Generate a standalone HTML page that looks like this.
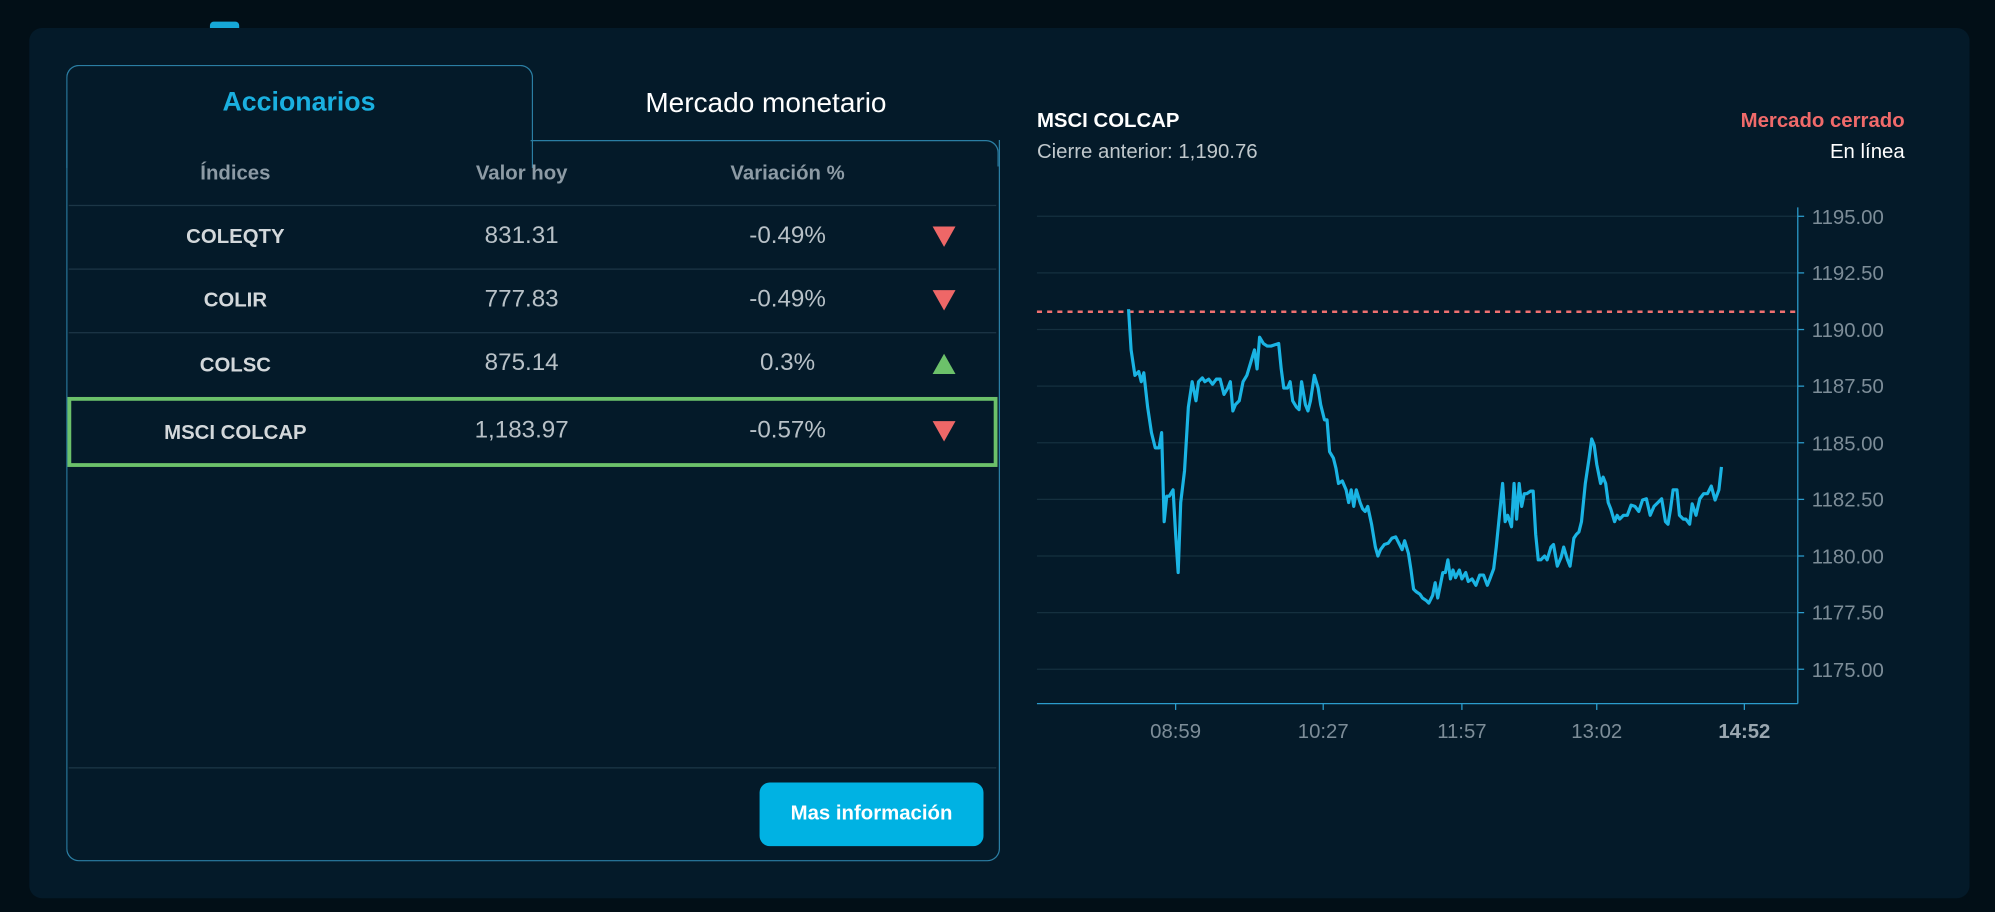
<!DOCTYPE html>
<html><head><meta charset="utf-8"><style>
html,body{margin:0;padding:0;background:#020f17;overflow:hidden;}
#wrap{width:1568px;height:717px;transform:scale(1.27232);transform-origin:0 0;position:relative;font-family:"Liberation Sans",sans-serif;}
.abs{position:absolute;}
.card{left:23px;top:22px;width:1525px;height:684px;background:#041a29;border-radius:10px;}
.t{position:absolute;white-space:nowrap;transform:translate(-50%,-50%);}
.hd{color:#8d9ba5;font-weight:bold;font-size:16px;}
.nm{color:#d3d8db;font-weight:bold;font-size:16px;}
.vl{color:#b8c1c7;font-size:19px;}
.hl{position:absolute;left:54px;width:729px;height:1px;background:#1c3646;}
.dn{position:absolute;width:0;height:0;border-left:9px solid transparent;border-right:9px solid transparent;border-top:16px solid #ee6767;transform:translate(-50%,-50%);}
.up{position:absolute;width:0;height:0;border-left:9px solid transparent;border-right:9px solid transparent;border-bottom:16px solid #6cc16a;transform:translate(-50%,-50%);}
</style></head><body><div id="wrap">
<div class="abs" style="left:165px;top:17px;width:23px;height:8px;background:#16a8d8;border-radius:3px 3px 0 0;"></div>
<div class="abs card"></div>
<!-- left panel borders -->
<div class="abs" style="left:52px;top:51px;width:365px;height:80px;border:1px solid #2b7ea3;border-bottom:none;border-radius:10px 10px 0 0;"></div>
<div class="abs" style="left:52px;top:110px;width:732px;height:566px;border:1px solid #2b7ea3;border-top:none;border-radius:0 0 10px 10px;"></div>
<div class="abs" style="left:417px;top:110px;width:367px;height:20px;border-top:1px solid #2b7ea3;border-right:1px solid #2b7ea3;border-radius:0 10px 0 0;"></div>
<div class="t" style="left:235px;top:81px;color:#1ab0e0;font-weight:bold;font-size:21px;">Accionarios</div>
<div class="t" style="left:602px;top:81px;color:#fff;font-size:22px;">Mercado monetario</div>
<div class="t hd" style="left:185px;top:137px;">Índices</div>
<div class="t hd" style="left:410px;top:137px;">Valor hoy</div>
<div class="t hd" style="left:619px;top:137px;">Variación %</div>
<div class="hl" style="top:161px"></div><div class="hl" style="top:211px"></div><div class="hl" style="top:261px"></div><div class="hl" style="top:603px"></div>
<div class="t nm" style="left:185px;top:187px;">COLEQTY</div><div class="t vl" style="left:410px;top:186px;">831.31</div><div class="t vl" style="left:619px;top:186px;">-0.49%</div><div class="dn" style="left:742px;top:186px;"></div>
<div class="t nm" style="left:185px;top:237px;">COLIR</div><div class="t vl" style="left:410px;top:236px;">777.83</div><div class="t vl" style="left:619px;top:236px;">-0.49%</div><div class="dn" style="left:742px;top:236px;"></div>
<div class="t nm" style="left:185px;top:288px;">COLSC</div><div class="t vl" style="left:410px;top:286px;">875.14</div><div class="t vl" style="left:619px;top:286px;">0.3%</div><div class="up" style="left:742px;top:286px;"></div>
<div class="abs" style="left:53px;top:312px;width:725px;height:49px;border:3px solid #6cc16a;"></div>
<div class="t nm" style="left:185px;top:341px;">MSCI COLCAP</div><div class="t vl" style="left:410px;top:339px;">1,183.97</div><div class="t vl" style="left:619px;top:339px;">-0.57%</div><div class="dn" style="left:742px;top:339px;"></div>
<div class="abs" style="left:597px;top:615px;width:176px;height:50px;background:#00b2e3;border-radius:8px;color:#fff;font-weight:bold;font-size:16px;line-height:50px;text-align:center;">Mas información</div>
<!-- chart header -->
<div class="abs" style="left:815px;top:87px;color:#fff;font-weight:bold;font-size:16px;">MSCI COLCAP</div>
<div class="abs" style="left:815px;top:111px;color:#c0c8cc;font-size:16px;">Cierre anterior: 1,190.76</div>
<div class="abs" style="right:71px;top:87px;color:#f06a6a;font-weight:bold;font-size:16px;">Mercado cerrado</div>
<div class="abs" style="right:71px;top:111px;color:#fff;font-size:16px;">En línea</div>
<svg class="abs" style="left:0;top:0" width="1568" height="717">
<g stroke="#15303f" stroke-width="1">
<line x1="815" x2="1413" y1="170" y2="170"/><line x1="815" x2="1413" y1="214.5" y2="214.5"/><line x1="815" x2="1413" y1="259" y2="259"/><line x1="815" x2="1413" y1="303.5" y2="303.5"/><line x1="815" x2="1413" y1="348" y2="348"/><line x1="815" x2="1413" y1="392.5" y2="392.5"/><line x1="815" x2="1413" y1="437" y2="437"/><line x1="815" x2="1413" y1="481.5" y2="481.5"/><line x1="815" x2="1413" y1="526" y2="526"/>
</g>
<g stroke="#2b9ccc" stroke-width="1">
<line x1="1413" x2="1413" y1="163" y2="553"/><line x1="815" x2="1413" y1="553" y2="553"/>
<line x1="1413" x2="1418" y1="170" y2="170"/><line x1="1413" x2="1418" y1="214.5" y2="214.5"/><line x1="1413" x2="1418" y1="259" y2="259"/><line x1="1413" x2="1418" y1="303.5" y2="303.5"/><line x1="1413" x2="1418" y1="348" y2="348"/><line x1="1413" x2="1418" y1="392.5" y2="392.5"/><line x1="1413" x2="1418" y1="437" y2="437"/><line x1="1413" x2="1418" y1="481.5" y2="481.5"/><line x1="1413" x2="1418" y1="526" y2="526"/>
<line x1="924" x2="924" y1="553" y2="558"/><line x1="1040" x2="1040" y1="553" y2="558"/><line x1="1149" x2="1149" y1="553" y2="558"/><line x1="1255" x2="1255" y1="553" y2="558"/><line x1="1371" x2="1371" y1="553" y2="558"/>
</g>
<g fill="#7d8d98" font-family="Liberation Sans,sans-serif" font-size="16">
<text x="1424" y="176">1195.00</text><text x="1424" y="220">1192.50</text><text x="1424" y="265">1190.00</text><text x="1424" y="309">1187.50</text><text x="1424" y="354">1185.00</text><text x="1424" y="398">1182.50</text><text x="1424" y="443">1180.00</text><text x="1424" y="487">1177.50</text><text x="1424" y="532">1175.00</text>
<g text-anchor="middle"><text x="924" y="580">08:59</text><text x="1040" y="580">10:27</text><text x="1149" y="580">11:57</text><text x="1255" y="580">13:02</text><text x="1371" y="580" font-weight="bold" fill="#9aa7b0">14:52</text></g>
</g>
<line x1="815" x2="1413" y1="245" y2="245" stroke="#f07070" stroke-width="2" stroke-dasharray="4,4"/>
<polyline fill="none" stroke="#1ab4e4" stroke-width="2.5" stroke-linejoin="round" points="887,243 889,275 892,295 895,292 897,300 899,293 902,320 905,340 908,352 911,352 913,340 915,410 917,390 919,390 922,385 924,420 926,450 928,395 931,370 934,320 937,300 940,315 942,300 945,297 947,300 950,298 953,302 956,298 959,298 962,310 965,305 967,300 969,323 971,318 974,315 977,300 980,295 983,285 986,275 988,290 990,265 993,270 996,272 999,272 1002,271 1005,270 1007,290 1009,305 1012,305 1014,300 1016,315 1019,320 1021,322 1023,300 1026,318 1028,323 1030,315 1033,295 1036,305 1038,318 1041,330 1043,330 1045,355 1048,360 1050,368 1052,380 1055,378 1058,385 1060,395 1062,385 1064,398 1066,385 1069,395 1071,400 1073,402 1075,398 1078,412 1081,430 1083,437 1085,432 1088,428 1091,427 1094,423 1097,422 1100,428 1102,432 1104,425 1107,435 1109,448 1111,463 1113,465 1116,467 1118,470 1121,472 1123,474 1126,468 1128,458 1130,470 1132,460 1134,450 1136,450 1138,440 1140,455 1142,448 1144,454 1147,448 1149,455 1152,450 1154,457 1157,455 1160,460 1163,452 1166,452 1169,460 1171,455 1174,447 1176,430 1179,400 1181,380 1183,410 1185,405 1188,414 1190,380 1192,408 1194,380 1196,398 1198,388 1200,388 1203,386 1205,386 1207,420 1209,440 1211,440 1214,437 1216,440 1219,430 1221,428 1224,445 1227,438 1229,430 1232,440 1234,445 1237,423 1239,420 1241,418 1243,410 1246,380 1249,360 1251,345 1253,350 1255,365 1258,380 1260,375 1262,380 1264,395 1266,400 1269,410 1271,405 1273,408 1276,405 1279,405 1282,397 1285,398 1288,402 1291,393 1294,392 1297,405 1300,398 1303,395 1306,392 1309,410 1311,412 1313,400 1315,385 1318,385 1320,405 1323,408 1325,408 1328,412 1330,396 1333,405 1336,392 1339,388 1342,388 1345,382 1348,393 1351,385 1353,367"/>
</svg>
</div></body></html>
